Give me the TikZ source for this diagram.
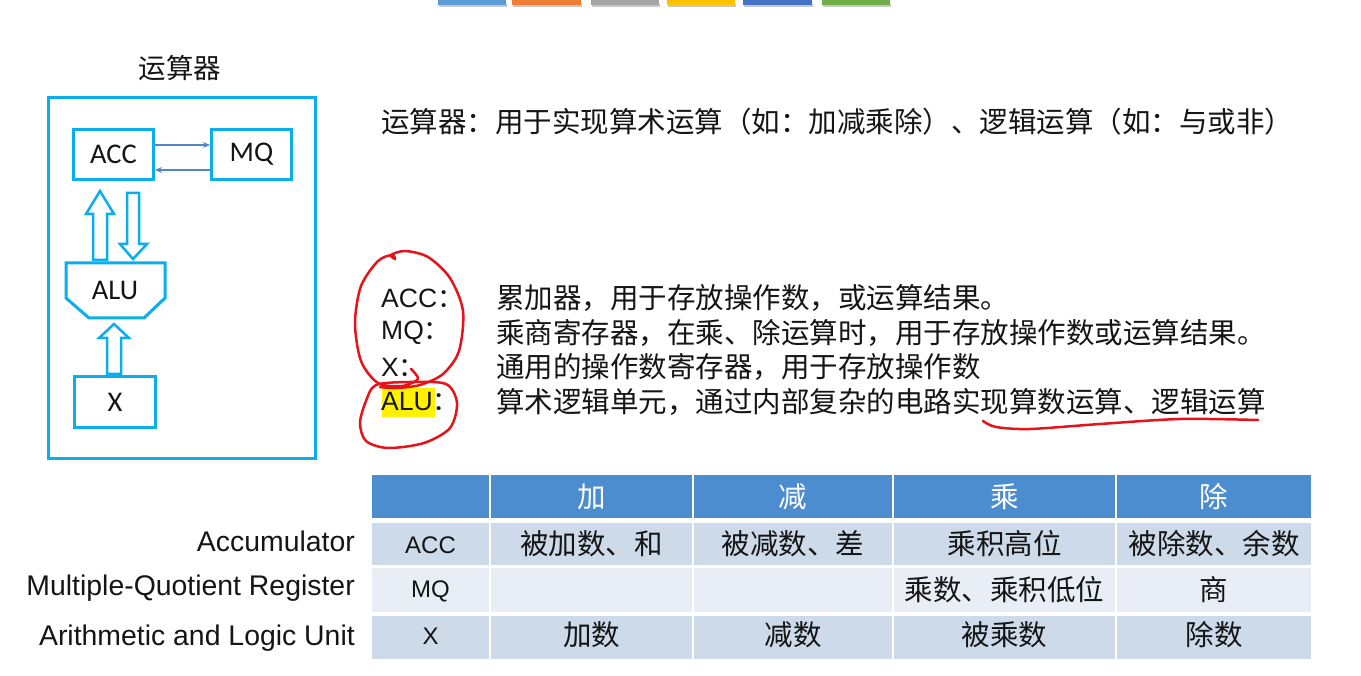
\documentclass[tikz,border=0pt]{standalone}
\usepackage{fontspec}
\setmainfont{Liberation Sans}
\newfontfamily\cjk{Noto Sans CJK SC}
\newfontfamily\calfont{Carlito}
\usetikzlibrary{arrows.meta}
\newcommand\fsz[1]{\fontsize{#1}{#1}\selectfont}
\definecolor{cyanb}{HTML}{0AAEEA}
\definecolor{steel}{HTML}{5585C6}
\definecolor{hdr}{HTML}{4B8DCF}
\definecolor{rowA}{HTML}{CDDAEA}
\definecolor{rowB}{HTML}{E9EEF6}
\definecolor{redpen}{HTML}{E5141B}
\definecolor{ink}{HTML}{151515}
\definecolor{barA}{HTML}{5B9BD5}
\definecolor{barB}{HTML}{ED7D31}
\definecolor{barC}{HTML}{A5A5A5}
\definecolor{barD}{HTML}{FFC000}
\definecolor{barE}{HTML}{4472C4}
\definecolor{barF}{HTML}{70AD47}
\begin{document}
\begin{tikzpicture}[x=1pt,y=-1pt,
  cbox/.style={draw=cyanb,line width=3pt,inner sep=0pt,font=\calfont\fsz{28.5},text=ink},
  hollow/.style={draw=cyanb,line width=2.5pt,fill=white,line join=miter},
  txt/.style={anchor=west,inner sep=0pt,font=\cjk\fsz{28.5},text=ink},
  lab/.style={anchor=west,inner sep=0pt,font=\fsz{26.5},text=ink},
  hd/.style={inner sep=0pt,font=\cjk\fsz{28.5},text=white},
  cel/.style={inner sep=0pt,font=\cjk\fsz{28.5},text=ink},
  lat/.style={inner sep=0pt,font=\fsz{24},text=ink},
  side/.style={anchor=east,inner sep=0pt,font=\fsz{28.4},text=ink},
  pen/.style={draw=redpen,line width=2.5pt,line cap=round,line join=round}]
\path[fill=white] (0,0) rectangle (1361,675);
% top bars
\foreach \a/\b/\c in {438/506/barA,512/581/barB,591/659/barC,667/735/barD,743/812/barE,822/890/barF}{
  \fill[black!22] (\a+1,3) rectangle (\b+1,6);
  \fill[\c] (\a,-1) rectangle (\b,4);
}
% left diagram
\node[inner sep=0pt,font=\cjk\fsz{27.5},text=ink] (ttl) at (180,67) {运算器};
\node[cbox,minimum width=267pt,minimum height=361pt] (outer) at (182,277) {};
\node[cbox,minimum width=80pt,minimum height=50pt] (acc) at (113.5,153.5) {ACC};
\node[cbox,minimum width=80pt,minimum height=50pt] (mq) at (251.5,153.5) {MQ};
\node[cbox,minimum width=81pt,minimum height=51pt] (xr) at (115,401) {X};
\draw[draw=cyanb,line width=3pt,line join=miter] (66,262)--(165,262)--(165,297)--(144,317)--(89,317)--(66,297)--cycle;
\node[inner sep=0pt,font=\calfont\fsz{28.5},text=ink] (alu) at (115,289) {ALU};
\draw[hollow] (93,259)--(93,213)--(86,213)--(100,190)--(114,213)--(107,213)--(107,259)--cycle;
\draw[hollow] (127,192)--(127,243)--(120,243)--(133,258)--(147,243)--(139,243)--(139,192)--cycle;
\draw[hollow] (107,373)--(107,337)--(99,337)--(114,323)--(129,337)--(121,337)--(121,373)--cycle;
\draw[steel,line width=1.6pt,-{Stealth[length=7pt,width=6pt]}] ([yshift=9.5pt]acc.east) -- ([yshift=9.5pt]mq.west);
\draw[steel,line width=1.6pt,-{Stealth[length=7pt,width=6pt]}] ([yshift=-15.5pt]mq.west) -- ([yshift=-15.5pt]acc.east);
% right text
\node[txt] (def) at (381,121) {运算器：用于实现算术运算（如：加减乘除）、逻辑运算（如：与或非）};
\fill[yellow] (382,387) rectangle (435,416);
\node[lab] (lacc) at (381,297) {ACC{\cjk ：}};
\node[lab] (lmq) at (381,332) {MQ{\cjk ：}};
\node[lab] (lx) at (381,366) {X{\cjk ：}};
\node[lab] (lalu) at (381,401) {ALU{\cjk ：}};
\node[txt] (dacc) at (496,297) {累加器，用于存放操作数，或运算结果。};
\node[txt] (dmq) at (496,332) {乘商寄存器，在乘、除运算时，用于存放操作数或运算结果。};
\node[txt] (dx) at (496,366) {通用的操作数寄存器，用于存放操作数};
\node[txt] (dalu) at (496,401) {算术逻辑单元，通过内部复杂的电路实现算数运算、逻辑运算};
% red pen
\draw[pen] plot[smooth] coordinates {(411,368) (418,378) (402,385) (378,382) (361,360) (355,322) (361,285) (378,260) (392,254) (395,258) (391,254) (405,250) (428,256) (450,277) (463,310) (459,350) (443,373) (420,384) (396,387) (380,386)};
\draw[pen] plot[smooth cycle] coordinates {(376,384) (410,381) (446,383) (457,402) (450,427) (424,442) (388,447) (366,440) (360,422) (366,400)};
\draw[pen] plot[smooth] coordinates {(983,420) (996,426) (1030,428) (1100,423) (1180,418) (1258,419)};
% table
\foreach \l/\r in {371/490,490/693,693/893,893/1116,1116/1312}{
  \fill[hdr] (\l+1,474) rectangle (\r-1,517);
  \fill[rowA] (\l+1,522) rectangle (\r-1,564);
  \fill[rowB] (\l+1,567) rectangle (\r-1,611);
  \fill[rowA] (\l+1,615) rectangle (\r-1,658);
}
\node[hd] (h2) at (591.5,496) {加};
\node[hd] (h3) at (793,496) {减};
\node[hd] (h4) at (1004.5,496) {乘};
\node[hd] (h5) at (1214,496) {除};
\node[lat] (a1) at (430.5,544) {ACC};
\node[cel] (a2) at (591.5,543) {被加数、和};
\node[cel] (a3) at (793,543) {被减数、差};
\node[cel] (a4) at (1004.5,543) {乘积高位};
\node[cel] (a5) at (1214,543) {被除数、余数};
\node[lat] (m1) at (430.5,590) {MQ};
\node[cel] (m4) at (1004.5,589) {乘数、乘积低位};
\node[cel] (m5) at (1214,589) {商};
\node[lat] (x1) at (430.5,635) {X};
\node[cel] (x2) at (591.5,634) {加数};
\node[cel] (x3) at (793,634) {减数};
\node[cel] (x4) at (1004.5,634) {被乘数};
\node[cel] (x5) at (1214,634) {除数};
% side labels
\node[side] (s1) at (355,540) {Accumulator};
\node[side] (s2) at (355,587) {Multiple-Quotient Register};
\node[side] (s3) at (355,637) {Arithmetic and Logic Unit};
\end{tikzpicture}
\end{document}
